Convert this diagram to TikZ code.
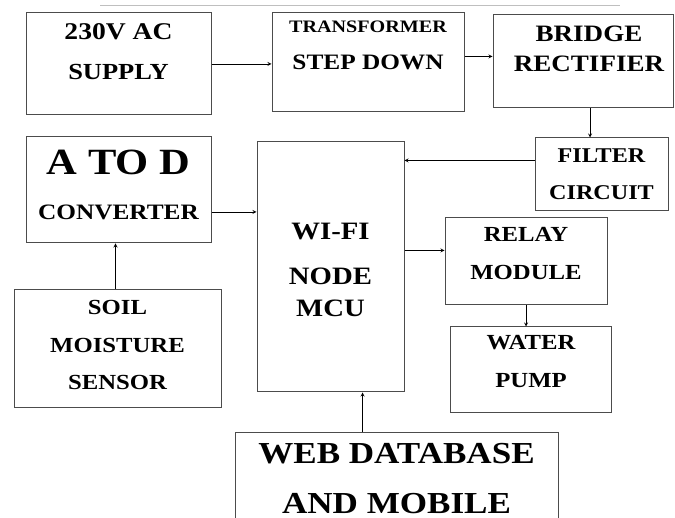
\documentclass[tikz,border=0pt]{standalone}
\usepackage{fontspec}
\newfontfamily\diagfont{Liberation Serif}[FakeStretch=1.15]
\usetikzlibrary{arrows,calc}

\begin{document}
\begin{tikzpicture}[
    x=1pt, y=-1pt,
    box/.style={rectangle, draw=black!70, line width=1pt, inner sep=0pt},
    arrow/.style={->, >=stealth, line width=0.8pt},
    txt/.style={font=\diagfont\bfseries\fontsize{#1}{#1}\selectfont, inner sep=0pt, anchor=base}
]
\useasboundingbox (0,0) rectangle (675,518);
\clip (0,0) rectangle (675,518);

% Top rule
\draw[black!25, line width=1pt] (100,6) -- (620,6);

% Power path
\node[box, minimum width=185, minimum height=102] (supply) at (118.5,64) {};
\node[box, minimum width=192, minimum height=99] (xfmr) at (368,62.5) {};
\node[box, minimum width=180, minimum height=93] (bridge) at (583,61.5) {};
\node[box, minimum width=133, minimum height=73] (filter) at (601.5,174.5) {};

\node[txt=24] (t-supply1) at (118.5,40) {230V AC};
\node[txt=23] (t-supply2) at (118.5,80) {SUPPLY};
\node[txt=17.5] (t-xfmr1) at (368,33) {TRANSFORMER};
\node[txt=22] (t-xfmr2) at (368,70) {STEP DOWN};
\node[txt=23.5] (t-bridge1) at (589,42) {BRIDGE};
\node[txt=23.5] (t-bridge2) at (589,72) {RECTIFIER};
\node[txt=21] (t-filter1) at (601.5,163) {FILTER};
\node[txt=21] (t-filter2) at (601.5,200) {CIRCUIT};

% Sensing side
\node[box, minimum width=185, minimum height=106] (atod) at (118.5,190) {};
\node[box, minimum width=207, minimum height=118] (soil) at (117.5,349) {};

\node[txt=37] (t-atod1) at (118.5,175) {A TO D};
\node[txt=22] (t-atod2) at (118.5,220) {CONVERTER};
\node[txt=21.5] (t-soil1) at (117.5,315) {SOIL};
\node[txt=21.5] (t-soil2) at (117.5,353) {MOISTURE};
\node[txt=21.5] (t-soil3) at (117.5,390) {SENSOR};

% Controller
\node[box, minimum width=147, minimum height=250] (wifi) at (330.5,267) {};
\node[txt=25] (t-wifi1) at (330.5,240) {WI-FI};
\node[txt=25] (t-wifi2) at (330.5,285) {NODE};
\node[txt=25] (t-wifi3) at (330.5,317) {MCU};

% Output side
\node[box, minimum width=162, minimum height=87] (relay) at (526,261.5) {};
\node[box, minimum width=161, minimum height=86] (pump) at (530.5,370) {};
\node[txt=21.5] (t-relay1) at (526,242) {RELAY};
\node[txt=21.5] (t-relay2) at (526,280) {MODULE};
\node[txt=21.5] (t-pump1) at (531,350) {WATER};
\node[txt=21.5] (t-pump2) at (531,388) {PUMP};

% Web
\node[box, minimum width=323, minimum height=107] (web) at (396.5,486.5) {};
\node[txt=30.5] (t-web1) at (396.5,464) {WEB DATABASE};
\node[txt=30.5] (t-web2) at (396.5,513) {AND MOBILE};

% Arrows
\draw[arrow] (supply.east) -- (supply.east -| xfmr.west);
\draw[arrow] ([yshift=6pt]xfmr.east) -- ([yshift=6pt]xfmr.east -| bridge.west);
\draw[arrow] ([xshift=7pt]bridge.south) -- ([xshift=7pt]bridge.south |- filter.north);
\draw[arrow] ([yshift=14pt]filter.west) -- ([yshift=14pt]filter.west -| wifi.east);
\draw[arrow] ([yshift=-22pt]atod.east) -- ([yshift=-22pt]atod.east -| wifi.west);
\draw[arrow] ([xshift=-2pt]soil.north) -- ([xshift=-2pt]soil.north |- atod.south);
\draw[arrow] ([yshift=11pt]relay.west -| wifi.east) -- ([yshift=11pt]relay.west);
\draw[arrow] (relay.south) -- (relay.south |- pump.north);
\draw[arrow] ([xshift=32pt]wifi.south |- web.north) -- ([xshift=32pt]wifi.south);

\end{tikzpicture}
\end{document}
